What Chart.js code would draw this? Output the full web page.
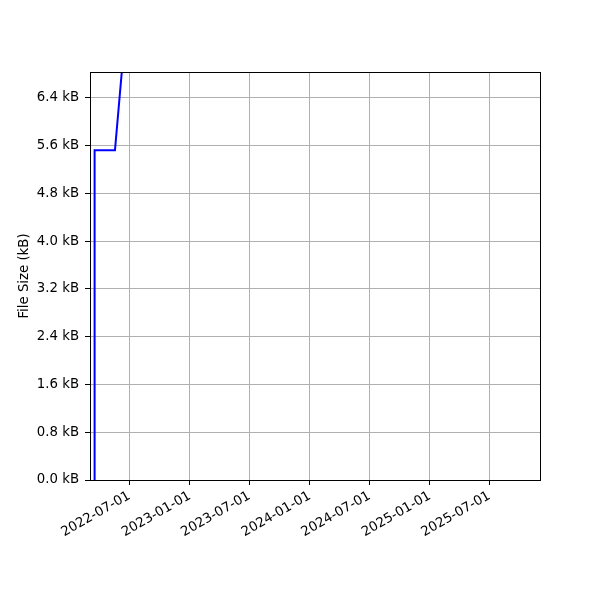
<!DOCTYPE html>
<html>
<head>
<meta charset="utf-8">
<script src="https://cdn.jsdelivr.net/npm/chart.js@4.4.1/dist/chart.umd.min.js"></script>
<style>
  body { margin: 0; background: #fff; }
  #wrap { width: 600px; height: 600px; }
</style>
</head>
<body>
<div id="wrap"><canvas id="chart1" width="600" height="600"></canvas></div>
<script>
// data
const dates = ["2022-03-16", "2022-03-17", "2022-05-18", "2022-06-10"];
const sizes = [0, 5.52, 5.52, 6.97];
const dateTicks = ["2022-07-01", "2023-01-01", "2023-07-01", "2024-01-01", "2024-07-01", "2025-01-01", "2025-07-01"];
const sizeTicks = [0, 0.8, 1.6, 2.4, 3.2, 4.0, 4.8, 5.6, 6.4];
const xMin = "2022-03-03";
const xMax = "2025-12-02";
const yMax = 6.83;

const font = { family: "DejaVu Sans", size: 13.3 };

const frame = {
  id: "frame",
  afterDraw(chart) {
    const a = chart.chartArea;
    const ctx = chart.ctx;
    ctx.save();
    ctx.strokeStyle = "#000";
    ctx.lineWidth = 1;
    ctx.strokeRect(a.left + 0.5, a.top + 0.5, a.right - a.left, a.bottom - a.top);
    ctx.restore();
  },
};

const ctx = document.querySelector("#chart1").getContext("2d");
const myChart = new Chart(ctx, {
  type: "line",
  data: {
    datasets: [
      {
        data: dates.map((d, i) => ({ x: Date.parse(d), y: sizes[i] })),
        borderColor: "#0000ff",
        borderWidth: 2,
        pointRadius: 0,
        tension: 0,
        fill: false,
      },
    ],
  },
  options: {
    responsive: false,
    animation: false,
    layout: { padding: { top: 72, right: 60, left: 0, bottom: 0 } },
    plugins: { legend: { display: false }, tooltip: { enabled: false } },
    scales: {
      x: {
        type: "linear",
        min: Date.parse(xMin),
        max: Date.parse(xMax),
        afterBuildTicks: (axis) => {
          axis.ticks = dateTicks.map((d) => ({ value: Date.parse(d) }));
        },
        afterFit: (axis) => {
          axis.height = 120;
        },
        ticks: {
          color: "#000",
          font: font,
          minRotation: 30,
          maxRotation: 30,
          padding: 3,
          autoSkip: false,
          callback: (v) => new Date(v).toISOString().slice(0, 10),
        },
        grid: { color: "#b0b0b0", lineWidth: 1, tickColor: "#000", tickLength: 5 },
        border: { color: "#000" },
      },
      y: {
        min: 0,
        max: yMax,
        afterBuildTicks: (axis) => {
          axis.ticks = sizeTicks.map((v) => ({ value: v }));
        },
        afterFit: (axis) => {
          axis.width = 90;
        },
        ticks: {
          color: "#000",
          font: font,
          padding: 6,
          callback: (v) => v.toFixed(1) + " kB",
        },
        title: {
          display: true,
          text: "File Size (kB)",
          color: "#000",
          font: font,
          padding: { top: 17, bottom: 0 },
        },
        grid: { color: "#b0b0b0", lineWidth: 1, tickColor: "#000", tickLength: 5 },
        border: { color: "#000" },
      },
    },
  },
  plugins: [frame],
});
</script>
</body>
</html>
